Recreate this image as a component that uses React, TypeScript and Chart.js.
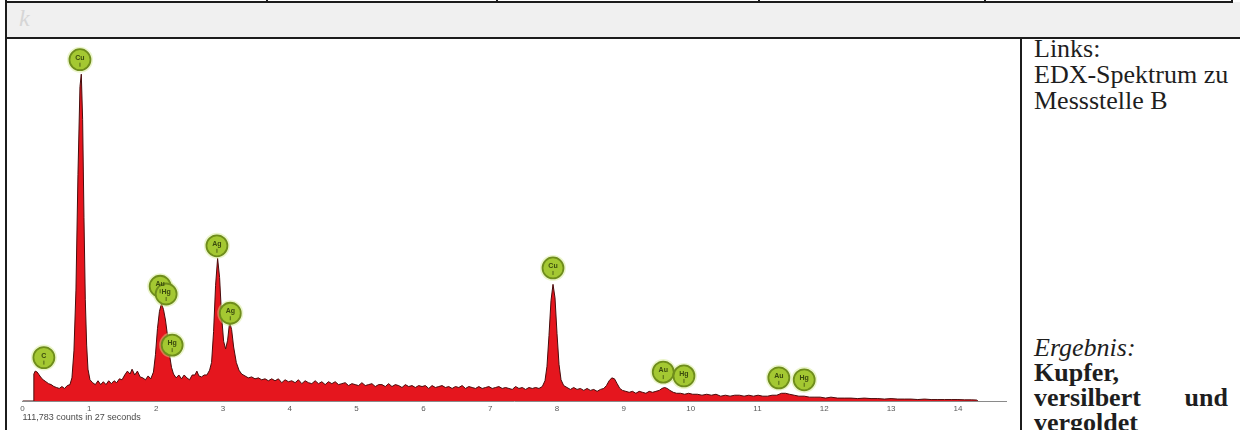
import React, { useEffect, useRef } from "react";
import { Chart, registerables } from "chart.js";

Chart.register(...registerables);

// EDX spectrum: channel energy (keV) and intensity above background zero
const energyKeV = [
  0.0, 0.16, 0.17, 0.19, 0.22, 0.25, 0.28, 0.31, 0.35, 0.39,
  0.43, 0.47, 0.51, 0.55, 0.59, 0.63, 0.67, 0.71, 0.74, 0.77,
  0.8, 0.83, 0.86, 0.88, 0.9, 0.92, 0.94, 0.96, 0.98, 1.01,
  1.05, 1.09, 1.13, 1.17, 1.21, 1.25, 1.29, 1.33, 1.37, 1.41,
  1.45, 1.49, 1.53, 1.57, 1.61, 1.64, 1.68, 1.72, 1.76, 1.8,
  1.84, 1.88, 1.92, 1.96, 1.99, 2.02, 2.05, 2.08, 2.11, 2.14,
  2.17, 2.2, 2.23, 2.26, 2.3, 2.34, 2.38, 2.42, 2.46, 2.5,
  2.54, 2.58, 2.61, 2.64, 2.68, 2.72, 2.76, 2.8, 2.83, 2.86,
  2.89, 2.92, 2.95, 2.98, 3.01, 3.04, 3.07, 3.1, 3.13, 3.16,
  3.2, 3.24, 3.28, 3.33, 3.38, 3.43, 3.48, 3.53, 3.58, 3.63,
  3.68, 3.73, 3.78, 3.83, 3.88, 3.93, 3.98, 4.03, 4.08, 4.13,
  4.18, 4.23, 4.28, 4.33, 4.38, 4.43, 4.48, 4.53, 4.58, 4.63,
  4.68, 4.73, 4.78, 4.83, 4.88, 4.93, 4.98, 5.03, 5.08, 5.13,
  5.18, 5.23, 5.28, 5.33, 5.38, 5.43, 5.48, 5.53, 5.58, 5.63,
  5.68, 5.73, 5.78, 5.83, 5.88, 5.93, 5.98, 6.03, 6.08, 6.13,
  6.18, 6.23, 6.28, 6.33, 6.38, 6.43, 6.48, 6.53, 6.58, 6.63,
  6.68, 6.73, 6.78, 6.83, 6.88, 6.93, 6.98, 7.03, 7.08, 7.13,
  7.18, 7.23, 7.28, 7.33, 7.38, 7.43, 7.48, 7.53, 7.58, 7.63,
  7.68, 7.73, 7.78,
  7.82, 7.85, 7.88, 7.91, 7.94, 7.97, 8.0, 8.03, 8.06, 8.1,
  8.15, 8.2, 8.25, 8.3, 8.35, 8.4, 8.45, 8.5, 8.55, 8.6,
  8.65, 8.7, 8.74, 8.78, 8.82, 8.86, 8.9, 8.94, 8.98, 9.03,
  9.08, 9.13, 9.18, 9.23, 9.28, 9.33, 9.38, 9.43, 9.48, 9.53,
  9.57, 9.61, 9.65, 9.69, 9.74, 9.79, 9.85, 9.91, 9.97, 10.03,
  10.1, 10.17, 10.24, 10.31, 10.38, 10.45, 10.52, 10.59, 10.66, 10.73,
  10.8, 10.87, 10.94, 11.01, 11.08, 11.15, 11.22, 11.29, 11.36, 11.42,
  11.48, 11.55, 11.62, 11.7, 11.78, 11.86, 11.94, 12.02, 12.1, 12.2,
  12.3, 12.4, 12.5, 12.6, 12.7, 12.8, 12.9, 13.0, 13.1, 13.2,
  13.3, 13.4, 13.5, 13.6, 13.7, 13.8, 13.9, 14.0, 14.1, 14.2,
  14.28, 14.3,
];

const counts = [
  0, 0, 28, 31, 30, 27, 24, 22, 20, 18,
  17, 15, 14, 13, 15, 13, 16, 17, 24, 52,
  115, 235, 326, 339, 292, 190, 105, 58, 33, 22,
  19, 17, 21, 17, 20, 17, 21, 18, 21, 19,
  23, 22, 27, 31, 28, 33, 27, 31, 25, 24,
  22, 26, 23, 30, 48, 75, 93, 101, 95, 84,
  68, 48, 35, 28, 24, 27, 23, 27, 24, 22,
  27, 27, 31, 26, 25, 27, 27, 32, 40, 72,
  120, 148, 128, 88, 62, 54, 63, 82, 74, 56,
  40, 32, 28, 26, 24, 25, 23, 24, 22, 23,
  21, 23, 21, 23, 19, 22, 20, 21, 19, 22,
  18, 21, 19, 18, 21, 18, 20, 17, 20, 18,
  20, 17, 18, 19, 16, 18, 17, 16, 19, 16,
  17, 18, 15, 17, 17, 15, 18, 15, 17, 16,
  14, 17, 15, 16, 14, 16, 15, 16, 13, 16,
  14, 15, 16, 14, 15, 13, 15, 14, 16, 13,
  15, 14, 13, 15, 13, 14, 15, 13, 14, 15,
  13, 14, 13, 12, 15, 13, 14, 12, 14, 13,
  14, 13, 15,
  21, 36, 68, 104, 121, 107, 70, 38, 22, 16,
  14, 12, 14, 12, 13, 11, 13, 11, 12, 10,
  12, 13, 16, 21, 24, 23, 18, 13, 11, 10,
  9, 10, 8, 10, 9, 8, 10, 9, 10, 11,
  13, 14, 13, 11, 9, 8, 8, 7, 8, 7,
  7, 6, 7, 6, 7, 5, 6, 5, 6, 6,
  5, 6, 5, 6, 5, 5, 6, 6, 8, 8,
  7, 6, 5, 5, 4, 4, 4, 3, 4, 3,
  3, 3, 2.5, 3, 2.5, 2.5, 2, 2.5, 2, 2,
  2, 1.5, 2, 1.5, 1.5, 1.5, 1.5, 1.5, 1.2, 1.2,
  1, 0,
];

// Element identification markers over the peaks
const markerSymbols = ["Cu", "C", "Au", "Hg", "Hg", "Ag", "Ag", "Cu", "Au", "Hg", "Au", "Hg"];
const markerEnergy = [0.86, 0.32, 2.06, 2.15, 2.24, 2.91, 3.11, 7.94, 9.59, 9.9, 11.32, 11.7];
const markerLevel = [354, 45, 119, 111, 58, 161, 91, 138, 30, 26, 24, 22];

// Energy axis range (keV) and acquisition note
const axisMaxKeV = 14.72;
const intensityMax = 362;
const countsCaption = "111,783 counts in 27 seconds";

// Text of the description column
const noteLines = ["Links:", "EDX-Spektrum zu", "Messstelle B"];
const resultHeading = "Ergebnis:";
const resultWords = ["Kupfer,", "versilbert", "und", "vergoldet"];

const markerTextPlugin = {
  id: "markerText",
  afterDatasetsDraw(chart: any) {
    const meta = chart.getDatasetMeta(0);
    const ctx = chart.ctx as CanvasRenderingContext2D;
    ctx.save();
    ctx.font = 'bold 7px "Liberation Sans", Arial, sans-serif';
    ctx.textAlign = "center";
    ctx.textBaseline = "middle";
    ctx.fillStyle = "#3a4a0e";
    ctx.strokeStyle = "#3a4a0e";
    ctx.lineWidth = 0.8;
    meta.data.forEach((pt: any, i: number) => {
      const { x, y } = pt.getProps(["x", "y"], true);
      ctx.fillText(markerSymbols[i], x, y - 2);
      ctx.beginPath();
      ctx.moveTo(x, y + 3);
      ctx.lineTo(x, y + 7);
      ctx.stroke();
    });
    ctx.restore();
  },
};

function Spectrum() {
  const ref = useRef<HTMLCanvasElement>(null);
  useEffect(() => {
    if (!ref.current) return;
    const markers = markerEnergy.map((e, i) => ({ x: e, y: markerLevel[i] }));
    const chart = new Chart(ref.current, {
      type: "line",
      data: {
        datasets: [
          {
            type: "scatter",
            data: markers,
            pointRadius: 10.5,
            pointBackgroundColor: "#a4c832",
            pointBorderColor: "#6f8d1c",
            pointBorderWidth: 1.8,
            clip: false,
            order: 0,
          } as any,
          {
            type: "scatter",
            data: markers,
            pointRadius: 13,
            pointBackgroundColor: "rgba(210, 232, 140, 0.45)",
            pointBorderWidth: 0,
            clip: false,
            order: 1,
          } as any,
          {
            type: "line",
            data: energyKeV.map((e, i) => ({ x: e, y: counts[i] })),
            borderColor: "#4a0c0c",
            borderWidth: 1,
            backgroundColor: "#e5161e",
            fill: "origin",
            pointRadius: 0,
            tension: 0,
            order: 2,
          },
        ],
      },
      options: {
        animation: false,
        responsive: false,
        maintainAspectRatio: false,
        devicePixelRatio: 1,
        events: [],
        layout: { padding: { left: 15.5, right: 14, top: 0, bottom: 0 } },
        plugins: { legend: { display: false }, tooltip: { enabled: false } },
        scales: {
          x: {
            type: "linear",
            min: 0,
            max: axisMaxKeV,
            grid: { display: false, drawTicks: false },
            border: { display: true, color: "#8a8a8a", width: 1 },
            ticks: {
              stepSize: 1,
              includeBounds: false,
              autoSkip: false,
              maxRotation: 0,
              padding: 3,
              color: "#5a5a5a",
              font: { size: 8, family: '"Liberation Sans", Arial, sans-serif' },
              callback: (v: any) => String(v),
            },
            title: {
              display: true,
              text: countsCaption,
              align: "start",
              color: "#4a4a4a",
              padding: { top: 0, bottom: 7 },
              font: { size: 9, family: '"Liberation Sans", Arial, sans-serif' },
            },
            afterFit: (scale: any) => {
              scale.height = 29;
            },
          },
          y: { display: false, min: 0, max: intensityMax },
        },
      },
      plugins: [markerTextPlugin],
    });
    return () => chart.destroy();
  }, []);
  return <canvas ref={ref} width={1013} height={391} style={{ display: "block" }} />;
}

const ink = "#1c1c1c";

export default function App() {
  const serif = '"Liberation Serif", "Times New Roman", serif';
  const abs = (s: React.CSSProperties): React.CSSProperties => ({ position: "absolute", ...s });
  return (
    <div
      style={{
        position: "absolute",
        left: 0,
        top: 0,
        width: 1240,
        height: 430,
        overflow: "hidden",
        background: "#fff",
        fontFamily: serif,
        color: "#1e1e1e",
      }}
    >
      {/* grey band with the faint row marker */}
      <div style={abs({ left: 7, top: 2, width: 1233, height: 35, background: "#f0f0f0" })} />
      <div style={abs({ left: 19, top: 3, fontSize: 24, fontStyle: "italic", color: "#d6d6d6", lineHeight: "30px" })}>k</div>

      {/* table rules */}
      <div style={abs({ left: 5, top: 1, width: 1228, height: 2, background: ink })} />
      {[266, 496, 758, 984, 1231].map((x) => (
        <div key={x} style={abs({ left: x, top: 0, width: 2, height: 3, background: ink })} />
      ))}
      <div style={abs({ left: 5, top: 37, width: 1235, height: 2, background: ink })} />
      <div style={abs({ left: 5, top: 0, width: 2, height: 430, background: ink })} />
      <div style={abs({ left: 1020, top: 39, width: 2, height: 391, background: ink })} />

      {/* spectrum cell */}
      <div style={abs({ left: 7, top: 39, width: 1013, height: 391 })}>
        <Spectrum />
      </div>

      {/* description cell */}
      <div style={abs({ left: 1034, top: 36, fontSize: 26, lineHeight: "26px", whiteSpace: "nowrap" })}>
        {noteLines.map((t) => (
          <div key={t}>{t}</div>
        ))}
      </div>
      <div style={abs({ left: 1034, top: 335, width: 194, fontSize: 26, lineHeight: "25px", whiteSpace: "nowrap" })}>
        <div style={{ fontStyle: "italic" }}>{resultHeading}</div>
        <div style={{ fontWeight: "bold" }}>{resultWords[0]}</div>
        <div style={{ fontWeight: "bold", display: "flex", justifyContent: "space-between" }}>
          <span>{resultWords[1]}</span>
          <span>{resultWords[2]}</span>
        </div>
        <div style={{ fontWeight: "bold" }}>{resultWords[3]}</div>
      </div>
    </div>
  );
}
